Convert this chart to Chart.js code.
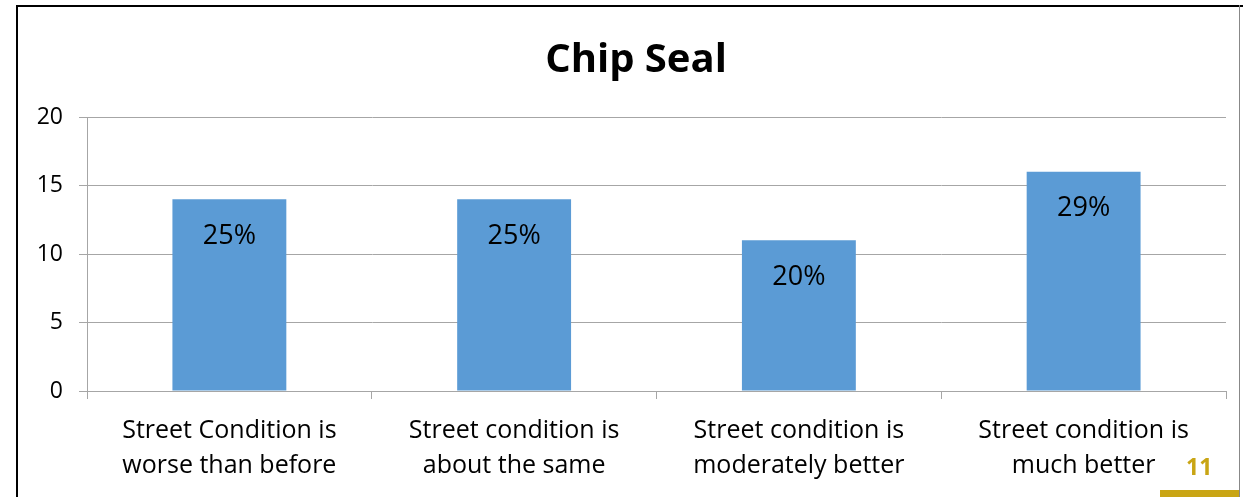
<!DOCTYPE html>
<html>
<head>
<meta charset="utf-8">
<script src="https://cdn.jsdelivr.net/npm/chart.js@4/dist/chart.umd.min.js"></script>
<style>
  html, body { margin: 0; padding: 0; background: #fff; }
  #wrap { position: relative; width: 1243px; height: 497px; overflow: hidden; }
  canvas { position: absolute; left: 0; top: 0; }
  .bl { position: absolute; left: 16px; top: 5px; width: 2px; height: 500px; background: #000; }
  .bt { position: absolute; left: 16px; top: 5px; width: 1227px; height: 2px; background: #000; }
  .br { position: absolute; left: 1239px; top: 5px; width: 1px; height: 500px; background: #888; }
  .pg { position: absolute; left: 1186px; top: 450px; font: bold 23px 'Open Sans', sans-serif; color: #C9A514; }
  .gb { position: absolute; left: 1160px; top: 490px; width: 79px; height: 7px; background: #C9A514; }
</style>
</head>
<body>
<div id="wrap">
  <canvas id="c" width="1243" height="497"></canvas>
  <div class="bl"></div><div class="bt"></div><div class="br"></div>
  <div class="pg">11</div><div class="gb"></div>
</div>
<script>
const categories = [
  ["Street Condition is", "worse than before"],
  ["Street condition is", "about the same"],
  ["Street condition is", "moderately better"],
  ["Street condition is", "much better"]
];
const counts = [14, 14, 11, 16];
const percentLabels = ["25%", "25%", "20%", "29%"];
const yTicks = [0, 5, 10, 15, 20];
const chartTitle = "Chip Seal";

const FONT = "'Open Sans', sans-serif";

const barLabels = {
  id: 'barLabels',
  afterDatasetsDraw(chart) {
    const ctx = chart.ctx;
    const meta = chart.getDatasetMeta(0);
    ctx.save();
    ctx.font = '27px ' + FONT;
    ctx.fillStyle = '#000';
    ctx.textAlign = 'center';
    ctx.textBaseline = 'middle';
    meta.data.forEach((bar, i) => {
      ctx.fillText(percentLabels[i], bar.x, bar.y + 37);
    });
    ctx.restore();
  }
};

const titleDraw = {
  id: 'titleDraw',
  afterDraw(chart) {
    const ctx = chart.ctx;
    ctx.save();
    ctx.font = 'bold 40px ' + FONT;
    ctx.fillStyle = '#000';
    ctx.textAlign = 'center';
    ctx.textBaseline = 'middle';
    ctx.fillText(chartTitle, 636, 61);
    ctx.restore();
  }
};

new Chart(document.getElementById('c'), {
  type: 'bar',
  data: {
    labels: categories,
    datasets: [{
      data: counts,
      backgroundColor: '#5B9BD5',
      borderWidth: 0,
      barPercentage: 1,
      categoryPercentage: 0.4
    }]
  },
  options: {
    responsive: false,
    animation: false,
    devicePixelRatio: 1,
    layout: { padding: { left: 20, right: 17, top: 117, bottom: 0 } },
    plugins: {
      legend: { display: false },
      tooltip: { enabled: false },
      title: { display: false }
    },
    scales: {
      y: {
        min: 0, max: 20,
        afterBuildTicks(scale) { scale.ticks = yTicks.map(v => ({ value: v })); },
        afterFit(scale) { scale.width = 67; },
        ticks: { color: '#000', font: { family: FONT, size: 23 }, padding: 16 },
        grid: { color: '#A6A6A6', lineWidth: 1, tickLength: 8, drawTicks: true },
        border: { color: '#A6A6A6' }
      },
      x: {
        afterFit(scale) { scale.height = 106; },
        ticks: { color: '#000', font: { family: FONT, size: 25, lineHeight: 1.4 }, padding: 14, maxRotation: 0, autoSkip: false },
        grid: { offset: true, drawOnChartArea: false, drawTicks: true, tickLength: 8, color: '#A6A6A6' },
        border: { color: '#A6A6A6' }
      }
    }
  },
  plugins: [barLabels, titleDraw]
});
</script>
</body>
</html>
